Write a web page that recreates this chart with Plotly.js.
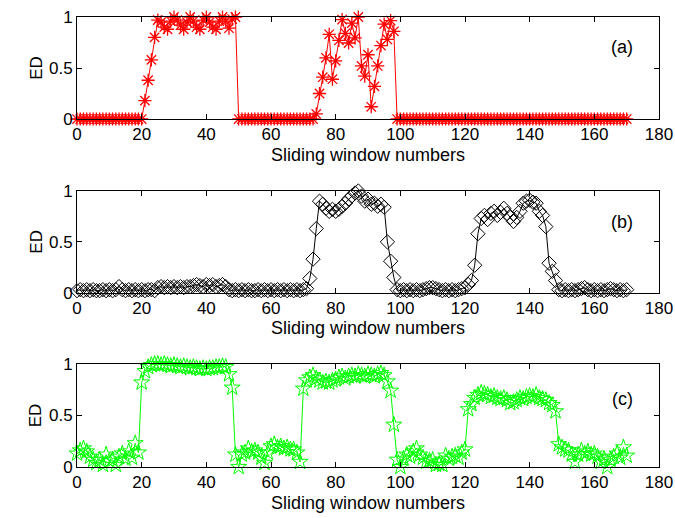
<!DOCTYPE html>
<html>
<head>
<meta charset="utf-8">
<script src="https://cdn.plot.ly/plotly-3.0.1.min.js"></script>
<style>
  html, body { margin: 0; padding: 0; background: #fff; }
  #chart { width: 675px; height: 518px; }
</style>
</head>
<body>
<div id="chart"></div>
<script>
// Sliding window index (x axis shared by all three panels)
const windowNumbers = [
  0, 1, 2, 3, 4, 5, 6, 7, 8, 9,
  10, 11, 12, 13, 14, 15, 16, 17, 18, 19,
  20, 21, 22, 23, 24, 25, 26, 27, 28, 29,
  30, 31, 32, 33, 34, 35, 36, 37, 38, 39,
  40, 41, 42, 43, 44, 45, 46, 47, 48, 49,
  50, 51, 52, 53, 54, 55, 56, 57, 58, 59,
  60, 61, 62, 63, 64, 65, 66, 67, 68, 69,
  70, 71, 72, 73, 74, 75, 76, 77, 78, 79,
  80, 81, 82, 83, 84, 85, 86, 87, 88, 89,
  90, 91, 92, 93, 94, 95, 96, 97, 98, 99,
  100, 101, 102, 103, 104, 105, 106, 107, 108, 109,
  110, 111, 112, 113, 114, 115, 116, 117, 118, 119,
  120, 121, 122, 123, 124, 125, 126, 127, 128, 129,
  130, 131, 132, 133, 134, 135, 136, 137, 138, 139,
  140, 141, 142, 143, 144, 145, 146, 147, 148, 149,
  150, 151, 152, 153, 154, 155, 156, 157, 158, 159,
  160, 161, 162, 163, 164, 165, 166, 167, 168, 169,
  170
];

// ED values, panel (a)
const edA = [
  0, 0, 0, 0, 0, 0, 0, 0, 0, 0,
  0, 0, 0, 0, 0, 0, 0, 0, 0, 0,
  0, 0.18, 0.38, 0.58, 0.80, 0.97, 0.95, 0.90, 0.88, 0.96,
  1.00, 0.97, 0.92, 0.88, 0.95, 1.00, 0.96, 0.90, 0.88, 0.97,
  1.00, 0.95, 0.90, 0.88, 0.96, 1.00, 0.96, 0.89, 0.98, 1.00,
  0, 0, 0, 0, 0, 0, 0, 0, 0, 0,
  0, 0, 0, 0, 0, 0, 0, 0, 0, 0,
  0, 0, 0, 0, 0.05, 0.25, 0.41, 0.60, 0.83, 0.39,
  0.57, 0.77, 0.975, 0.84, 0.745, 0.94, 0.795, 1.00, 0.52, 0.42,
  0.63, 0.12, 0.32, 0.52, 0.72, 0.93, 0.78, 0.965, 0.86, 0,
  0, 0, 0, 0, 0, 0, 0, 0, 0, 0,
  0, 0, 0, 0, 0, 0, 0, 0, 0, 0,
  0, 0, 0, 0, 0, 0, 0, 0, 0, 0,
  0, 0, 0, 0, 0, 0, 0, 0, 0, 0,
  0, 0, 0, 0, 0, 0, 0, 0, 0, 0,
  0, 0, 0, 0, 0, 0, 0, 0, 0, 0,
  0, 0, 0, 0, 0, 0, 0, 0, 0, 0,
  0
];

// ED values, panel (b)
const edB = [
  0.02, 0.03, 0.02, 0.03, 0.02, 0.03, 0.02, 0.02, 0.03, 0.02,
  0.03, 0.02, 0.03, 0.06, 0.03, 0.02, 0.03, 0.02, 0.03, 0.02,
  0.03, 0.02, 0.03, 0.03, 0.02, 0.05, 0.06, 0.05, 0.06, 0.05,
  0.06, 0.05, 0.06, 0.05, 0.06, 0.06, 0.07, 0.08, 0.07, 0.06,
  0.08, 0.07, 0.08, 0.06, 0.07, 0.08, 0.06, 0.03, 0.02, 0.03,
  0.02, 0.03, 0.02, 0.03, 0.02, 0.02, 0.03, 0.02, 0.03, 0.02,
  0.03, 0.02, 0.03, 0.02, 0.03, 0.02, 0.03, 0.02, 0.03, 0.02,
  0.03, 0.04, 0.14, 0.33, 0.63, 0.90, 0.87, 0.83, 0.80, 0.82,
  0.80, 0.82, 0.85, 0.88, 0.92, 0.95, 0.98, 1.00, 0.95, 0.90,
  0.92, 0.87, 0.88, 0.85, 0.87, 0.84, 0.50, 0.31, 0.15, 0.03,
  0.02, 0.03, 0.02, 0.03, 0.02, 0.03, 0.02, 0.03, 0.04, 0.05,
  0.05, 0.04, 0.03, 0.02, 0.03, 0.02, 0.03, 0.02, 0.03, 0.04,
  0.05, 0.08, 0.12, 0.27, 0.58, 0.73, 0.76, 0.72, 0.78, 0.80,
  0.76, 0.79, 0.83, 0.78, 0.74, 0.70, 0.74, 0.80, 0.88, 0.90,
  0.91, 0.89, 0.88, 0.80, 0.76, 0.65, 0.29, 0.21, 0.12, 0.03,
  0.02, 0.03, 0.02, 0.03, 0.02, 0.03, 0.04, 0.05, 0.03, 0.02,
  0.03, 0.02, 0.03, 0.02, 0.03, 0.04, 0.03, 0.02, 0.03, 0.02,
  0.03
];

// ED values, panel (c)
const edC = [
  0.13, 0.16, 0.18, 0.15, 0.10, 0.07, 0.04, 0.07, 0.02, 0.12,
  0.06, 0.07, 0.02, 0.10, 0.13, 0.08, 0.15, 0.09, 0.23, 0.14,
  0.82, 0.93, 0.97, 0.99, 1.00, 1.00, 0.99, 1.00, 0.99, 0.98,
  0.99, 0.98, 0.97, 0.98, 0.97, 0.96, 0.97, 0.96, 0.95, 0.96,
  0.95, 0.96, 0.96, 0.97, 0.97, 0.98, 0.97, 0.90, 0.77, 0.12,
  0.00, 0.12, 0.14, 0.18, 0.15, 0.16, 0.14, 0.09, 0.04, 0.14,
  0.20, 0.22, 0.19, 0.20, 0.18, 0.19, 0.17, 0.17, 0.14, 0.05,
  0.76, 0.84, 0.87, 0.89, 0.86, 0.84, 0.82, 0.83, 0.82, 0.84,
  0.85, 0.87, 0.88, 0.86, 0.88, 0.89, 0.88, 0.90, 0.89, 0.88,
  0.90, 0.89, 0.88, 0.90, 0.91, 0.89, 0.83, 0.74, 0.41, 0.07,
  0.00, 0.08, 0.12, 0.10, 0.15, 0.18, 0.12, 0.09, 0.05, 0.06,
  0.07, 0.02, 0.03, 0.02, 0.11, 0.08, 0.10, 0.11, 0.09, 0.14,
  0.17, 0.56, 0.61, 0.67, 0.70, 0.72, 0.71, 0.70, 0.68, 0.69,
  0.67, 0.66, 0.67, 0.65, 0.62, 0.63, 0.65, 0.67, 0.66, 0.68,
  0.69, 0.68, 0.70, 0.67, 0.66, 0.65, 0.62, 0.60, 0.54, 0.22,
  0.19, 0.17, 0.16, 0.12, 0.05, 0.12, 0.16, 0.13, 0.15, 0.12,
  0.13, 0.10, 0.05, 0.08, 0.00, 0.07, 0.10, 0.13, 0.09, 0.19,
  0.11
];

const panelLabels = ['(a)', '(b)', '(c)'];
const xTitle = 'Sliding window numbers';
const yTitle = 'ED';
const xTickVals = [0, 20, 40, 60, 80, 100, 120, 140, 160, 180];
const yTickVals = [0, 0.5, 1];
const yTickText = ['0', '0.5', '1'];

const FONT = 'Liberation Sans, Arial, Helvetica, sans-serif';

const traces = [
  {
    x: windowNumbers, y: edA, xaxis: 'x', yaxis: 'y',
    type: 'scatter', mode: 'lines+markers', cliponaxis: false,
    line: { color: '#ff0000', width: 1 },
    marker: { symbol: 'asterisk-open', size: 11, color: '#ff0000', line: { color: '#ff1a1a', width: 1.3 } }
  },
  {
    x: windowNumbers, y: edB, xaxis: 'x2', yaxis: 'y2',
    type: 'scatter', mode: 'lines+markers', cliponaxis: false,
    line: { color: '#000000', width: 1 },
    marker: { symbol: 'diamond-open', size: 11, color: '#000000', line: { color: '#000000', width: 1 } }
  },
  {
    x: windowNumbers, y: edC, xaxis: 'x3', yaxis: 'y3',
    type: 'scatter', mode: 'lines+markers', cliponaxis: false,
    line: { color: '#00ff00', width: 1 },
    marker: { symbol: 'star-open', size: 12, color: '#00ff00', line: { color: '#00ff00', width: 1 } }
  }
];

function xAxis(anchor) {
  return {
    anchor: anchor, domain: [0, 1], range: [0, 180],
    tickvals: xTickVals, ticks: 'inside', ticklen: 5, tickwidth: 1, tickcolor: '#000',
    showline: true, linecolor: '#000', linewidth: 1, mirror: 'ticks',
    showgrid: false, zeroline: false,
    tickfont: { family: FONT, size: 17, color: '#000' },
    title: { text: xTitle, font: { family: FONT, size: 18, color: '#000' }, standoff: 4 }
  };
}
function yAxis(anchor, domain) {
  return {
    anchor: anchor, domain: domain, range: [0, 1],
    tickvals: yTickVals, ticktext: yTickText,
    ticks: 'inside', ticklen: 5, tickwidth: 1, tickcolor: '#000',
    showline: true, linecolor: '#000', linewidth: 1, mirror: 'ticks',
    showgrid: false, zeroline: false,
    tickfont: { family: FONT, size: 17, color: '#000' },
    title: { text: yTitle, font: { family: FONT, size: 17, color: '#000' }, standoff: 2 }
  };
}

const labelY = [0.71, 0.70, 0.66];
const annotations = panelLabels.map((t, i) => ({
  text: t, xref: i === 0 ? 'x' : 'x' + (i + 1), yref: i === 0 ? 'y' : 'y' + (i + 1),
  x: 168.7, y: labelY[i], showarrow: false,
  font: { family: FONT, size: 18, color: '#000' }
}));

const layout = {
  width: 675, height: 518,
  margin: { l: 77, r: 16, t: 17, b: 51 },
  paper_bgcolor: '#fff', plot_bgcolor: '#fff',
  showlegend: false,
  font: { family: FONT, size: 17, color: '#000' },
  xaxis: xAxis('y'),
  yaxis: yAxis('x', [0.7733, 1.0]),
  xaxis2: xAxis('y2'),
  yaxis2: yAxis('x2', [0.3873, 0.6133]),
  xaxis3: xAxis('y3'),
  yaxis3: yAxis('x3', [0.0, 0.2289]),
  annotations: annotations
};

Plotly.newPlot('chart', traces, layout, { displayModeBar: false, staticPlot: true });
</script>
</body>
</html>
